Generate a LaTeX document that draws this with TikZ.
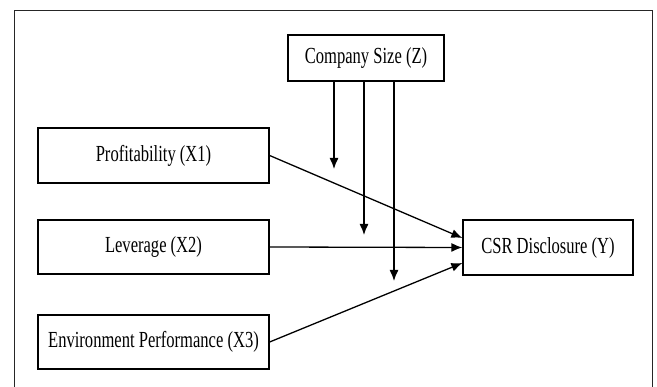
\documentclass[tikz,border=0pt]{standalone}
\usepackage{fontspec}
\setmainfont{Liberation Serif}[FakeStretch=0.72]
\usepackage{tikz}
\usetikzlibrary{positioning}
\usetikzlibrary{arrows.meta}

\begin{document}
\begin{tikzpicture}[varbox/.style={draw=black, line width=1.3pt, fill=white, inner sep=0pt, font=\fontsize{23}{26}\selectfont},
  link/.style={line width=1.3pt, color=black, -{Latex[length=11pt,width=9pt]}}]
\useasboundingbox (0pt,0pt) rectangle (657pt,-387pt);
\draw [line width=1pt, color=black!85] (14pt,-387pt) -- (14pt,-11pt) -- (652pt,-11pt) -- (652pt,-387pt);
\node (Z) [varbox, minimum width=156pt, minimum height=46pt] at (366pt, -58pt) {Company Size (Z)};
\node (X1) [varbox, minimum width=231pt, minimum height=55pt] at (153.5pt, -155.5pt) {Profitability (X1)};
\node (X2) [varbox, minimum width=231pt, minimum height=54pt] at (153.5pt, -247pt) {Leverage (X2)};
\node (X3) [varbox, minimum width=231pt, minimum height=54pt] at (153.5pt, -342pt) {Environment Performance (X3)};
\node (Y) [varbox, minimum width=170pt, minimum height=55pt] at (548pt, -247.5pt) {CSR Disclosure (Y)};
\coordinate (m1) at (334pt, -169pt);
\coordinate (m2) at (364pt, -235pt);
\coordinate (m3) at (394pt, -281pt);
\draw [link] (Z.south -| m1) to (m1);
\draw [link] (Z.south -| m2) to (m2);
\draw [link] (Z.south -| m3) to (m3);
\draw [link] (X1.east) to ([yshift=9.5pt]Y.west);
\draw [link] (X2.east) to (Y.west);
\draw [link] (X3.east) to ([yshift=-15.5pt]Y.west);
\end{tikzpicture}
\end{document}
